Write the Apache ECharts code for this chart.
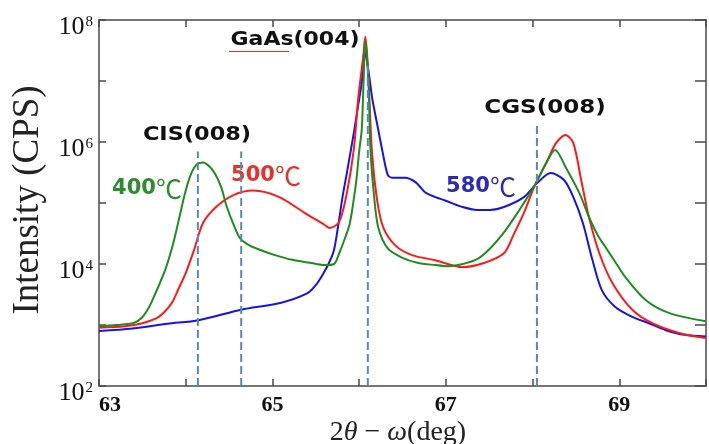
<!DOCTYPE html>
<html><head><meta charset="utf-8">
<script src="https://cdn.jsdelivr.net/npm/echarts@6/dist/echarts.min.js"></script>
<style>html,body{margin:0;padding:0;background:#fff}#c{width:709px;height:444px}</style>
</head><body><div id="c"></div>
<script>
// ---- data (2θ-ω in deg, intensity in CPS) ----
const blue580X = [63.00,63.39,63.79,64.15,64.64,65.09,65.40,65.50,65.59,65.66,65.71,65.76,65.81,65.86,65.94,65.99,66.03,66.06,66.08,66.11,66.15,66.21,66.27,66.33,66.38,66.53,66.65,66.76,66.88,66.99,67.17,67.36,67.51,67.67,67.90,68.05,68.21,68.36,68.47,68.58,68.69,68.80,68.95,69.15,69.34,69.53,69.75,70.00];
const blue580Y = [800,880,1050,1200,1780,2300,3300,4500,7100,11000,17000,44000,130000,320000,1.45e6,4.1e6,9.6e6,3.2e7,2.5e7,1.4e7,5.3e6,1.9e6,6.9e5,2.9e5,2.6e5,2.6e5,2.2e5,1.5e5,1.25e5,1.1e5,8.8e4,7.7e4,7.7e4,8.6e4,1.25e5,2.1e5,3.1e5,2.4e5,1.25e5,4.7e4,1.17e4,3700,2000,1360,1070,830,690,650];

const red500X = [63.00,63.30,63.50,63.69,63.84,63.92,64.00,64.09,64.20,64.35,64.55,64.78,65.08,65.37,65.60,65.66,65.77,65.86,65.94,65.99,66.05,66.07,66.09,66.11,66.15,66.21,66.28,66.42,66.61,66.88,67.19,67.44,67.67,67.78,67.90,68.03,68.16,68.27,68.38,68.47,68.56,68.65,68.77,68.92,69.15,69.38,69.69,70.00];
const red500Y = [900,950,1070,1360,2300,4000,7100,16000,47000,86000,135000,160000,125000,69000,44000,39000,49000,150000,790000,5.3e6,2.7e7,5.3e7,3.0e7,9.6e6,6.2e5,1.05e5,3.9e4,2.0e4,1.4e4,1.15e4,8900,10400,15000,30000,69000,2.0e5,4.6e5,9.6e5,1.3e6,9.6e5,2.4e5,5.9e4,1.5e4,4900,1780,1070,740,610];

const green400X = [63.00,63.20,63.40,63.49,63.58,63.65,63.71,63.77,63.83,63.88,63.94,64.00,64.07,64.13,64.20,64.27,64.34,64.41,64.47,64.55,64.63,64.74,64.86,65.03,65.23,65.43,65.60,65.71,65.77,65.83,65.89,65.94,65.97,66.00,66.03,66.05,66.07,66.09,66.11,66.13,66.17,66.22,66.33,66.50,66.67,66.88,67.02,67.17,67.36,67.51,67.67,67.78,67.90,68.03,68.16,68.26,68.38,68.54,68.65,68.75,68.84,68.95,69.07,69.30,69.57,70.00];
const green400Y = [950,1000,1080,1300,2000,3300,5200,8500,16000,30000,70000,160000,320000,430000,460000,400000,300000,180000,90000,45000,26000,20000,17000,14000,11700,10500,9600,10000,15000,25000,45000,120000,250000,700000,1.6e6,9e6,4.5e7,2.5e7,8e6,8e5,1.4e5,4e4,1.8e4,1.26e4,1.05e4,9600,9200,9800,12000,18000,33000,55000,100000,2.0e5,4.6e5,7.4e5,3.9e5,1.45e5,5.9e4,3.0e4,1.9e4,1.1e4,6100,2600,1580,1150];

const refLineX = [64.14, 64.64, 66.10, 68.05];
const refLineTop = [7e5, 7e5, 2e7, 2e6];
const xTickLabels = [63, 65, 67, 69];

const zip = (xs, ys) => xs.map((x, i) => [x, ys[i]]);
const serif = '"Liberation Serif", "Times New Roman", serif';
const sans = '"DejaVu Sans", "Liberation Sans", sans-serif';
const axisCol = '#4a4a4a';

const chart = echarts.init(document.getElementById('c'), null, {renderer: 'canvas'});

const dashSeries = refLineX.map((x, i) => ({
  type: 'line', xAxisIndex: 0, yAxisIndex: 0, z: 10,
  data: [[x, 100], [x, refLineTop[i]]],
  symbol: 'none', silent: true,
  lineStyle: {color: '#5b88ae', width: 2, type: [8, 4]}
}));

const curve = (name, xs, ys, color) => ({
  name, type: 'line', xAxisIndex: 0, yAxisIndex: 0,
  data: zip(xs, ys), symbol: 'none', smooth: 0.3,
  lineStyle: {color, width: 2}
});

const xBase = {
  type: 'value', min: 63, max: 70, interval: 1,
  axisLine: {show: true, onZero: false, lineStyle: {color: axisCol, width: 1.5}},
  axisTick: {show: true, inside: true, length: 7, lineStyle: {color: axisCol, width: 1.5}},
  splitLine: {show: false}
};
const yBase = {
  type: 'log', logBase: 10, min: 100, max: 1e8, interval: 1,
  axisLine: {show: true, lineStyle: {color: axisCol, width: 1.5}},
  axisTick: {show: true, inside: true, length: 7, lineStyle: {color: axisCol, width: 1.5}},
  splitLine: {show: false}, minorTick: {show: false}
};

// wavy underline (spell-check squiggle decoration under "GaAs")
const squiggle = [];
for (let px = 229; px <= 290; px += 2) squiggle.push([px, 50 + ((px / 2) % 2 ? 1.5 : -1.5)]);

chart.setOption({
  animation: false,
  backgroundColor: '#fff',
  grid: {left: 99, right: -6, top: 20, bottom: 58},
  xAxis: [
    Object.assign({}, xBase, {position: 'bottom',
      axisLabel: {show: true, margin: 8, fontFamily: serif, fontWeight: 'bold', fontSize: 22, color: '#111',
        alignMinLabel: 'left',
        formatter: v => xTickLabels.includes(Math.round(v)) ? String(Math.round(v)) : ''}}),
    Object.assign({}, xBase, {position: 'top', axisLabel: {show: false}})
  ],
  yAxis: [
    Object.assign({}, yBase, {position: 'left',
      axisLabel: {show: true, margin: 6, color: '#111', padding: [15, 0, 0, 0],
        formatter: v => { const e = Math.round(Math.log10(v)); return e % 2 ? '' : '{b|10}{s|' + e + '}'; },
        rich: {
          b: {fontFamily: serif, fontSize: 26, color: '#111', lineHeight: 26},
          s: {fontFamily: serif, fontSize: 15, color: '#111', verticalAlign: 'top', lineHeight: 26, padding: [0, 0, 6, 1]}
        }}}),
    Object.assign({}, yBase, {position: 'right', axisLine: {show: true, lineStyle: {color: axisCol, width: 1.5}},
      axisTick: {show: true, inside: true, length: 11, lineStyle: {color: axisCol, width: 1.5}},
      axisLabel: {show: false}})
  ],
  series: [
    curve('580℃', blue580X, blue580Y, '#1414e6'),
    curve('500℃', red500X, red500Y, '#ff1a1a'),
    curve('400℃', green400X, green400Y, '#1e8c1e')
  ].concat(dashSeries),
  graphic: [
    {type: 'text', x: 28, y: 200, rotation: Math.PI / 2, style: {text: 'Intensity (CPS)', font: '37px ' + serif, fill: '#222', textAlign: 'center', textVerticalAlign: 'middle'}},
    {type: 'text', x: 398, y: 433, style: {
      text: '{n|2}{i|θ}{n| − }{i|ω}{n|(deg)}', textAlign: 'center', textVerticalAlign: 'middle', fill: '#222',
      rich: {n: {fontFamily: serif, fontSize: 28, fill: '#222'}, i: {fontFamily: serif, fontStyle: 'italic', fontSize: 28, fill: '#222'}}}},
    {type: 'text', x: 295, y: 40, scaleX: 1.1, style: {text: 'GaAs(004)', font: 'bold 20px ' + sans, fill: '#111', textAlign: 'center', textVerticalAlign: 'middle'}},
    {type: 'polyline', shape: {points: squiggle}, style: {stroke: '#e03030', lineWidth: 1, fill: null}},
    {type: 'text', x: 197, y: 135, scaleX: 1.12, style: {text: 'CIS(008)', font: 'bold 20px ' + sans, fill: '#111', textAlign: 'center', textVerticalAlign: 'middle'}},
    {type: 'text', x: 545, y: 108, scaleX: 1.15, style: {text: 'CGS(008)', font: 'bold 20px ' + sans, fill: '#111', textAlign: 'center', textVerticalAlign: 'middle'}},
    {type: 'text', x: 147, y: 189, style: {text: '{a|400}{b|℃}', textAlign: 'center', textVerticalAlign: 'middle',
      rich: {a: {fontFamily: sans, fontWeight: 'bold', fontSize: 21, fill: '#2e8b2e'}, b: {fontFamily: '"Noto Sans CJK SC"', fontSize: 26, fill: '#2e8b2e'}}}},
    {type: 'text', x: 266, y: 176, style: {text: '{a|500}{b|℃}', textAlign: 'center', textVerticalAlign: 'middle',
      rich: {a: {fontFamily: sans, fontWeight: 'bold', fontSize: 21, fill: '#e8302a'}, b: {fontFamily: '"Noto Sans CJK SC"', fontSize: 26, fill: '#e8302a'}}}},
    {type: 'text', x: 481, y: 187, style: {text: '{a|580}{b|℃}', textAlign: 'center', textVerticalAlign: 'middle',
      rich: {a: {fontFamily: sans, fontWeight: 'bold', fontSize: 21, fill: '#2a2ab4'}, b: {fontFamily: '"Noto Sans CJK SC"', fontSize: 26, fill: '#2a2ab4'}}}}
  ]
});
</script></body></html>
